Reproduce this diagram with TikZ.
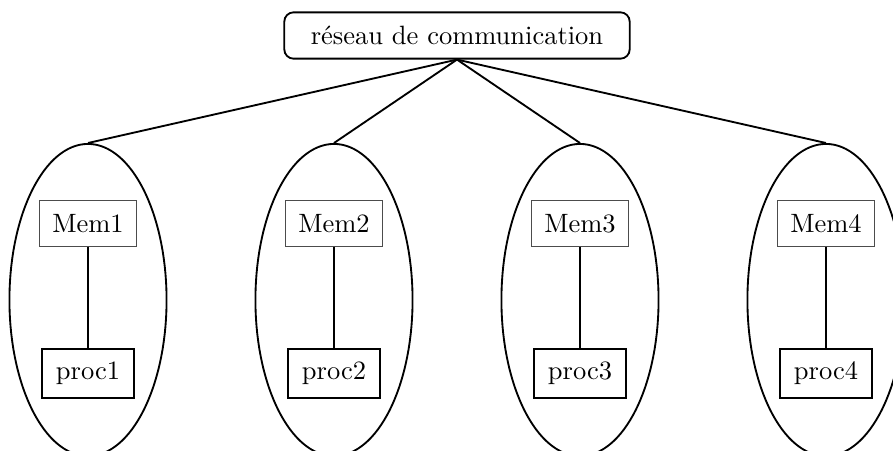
\documentclass[tikz,border=0pt]{standalone}
\usetikzlibrary{shapes.geometric}
\begin{document}
\begin{tikzpicture}[x=0.3774pt,y=-0.3774pt,
  cluster/.style={draw,line width=0.7pt,ellipse,inner sep=0pt,minimum width=59.3pt,minimum height=117.8pt},
  membox/.style={draw=black!70,thin,rectangle,inner xsep=4.9pt,inner ysep=5.1pt},
  procbox/.style={draw,thick,rectangle,inner xsep=5.1pt,inner ysep=5pt},
  netbox/.style={draw,line width=0.7pt,rounded corners=3.5pt,inner xsep=10pt,inner ysep=5.2pt},
  link/.style={line width=0.7pt}]
\useasboundingbox (0,0) rectangle (893,451);
\node[netbox] (net) at (457,35.5) {réseau de communication};
\foreach \i/\x in {1/88,2/334,3/580,4/826}{
  \node[cluster] (e\i) at (\x,300) {};
  \node[membox] (m\i) at (\x,223.5) {Mem\i};
  \node[procbox] (p\i) at (\x,373.5) {proc\i};
  \draw[link] (m\i.south) -- (p\i.north);
  \draw[link] (net.south) -- (e\i.north);
}
\end{tikzpicture}
\end{document}
